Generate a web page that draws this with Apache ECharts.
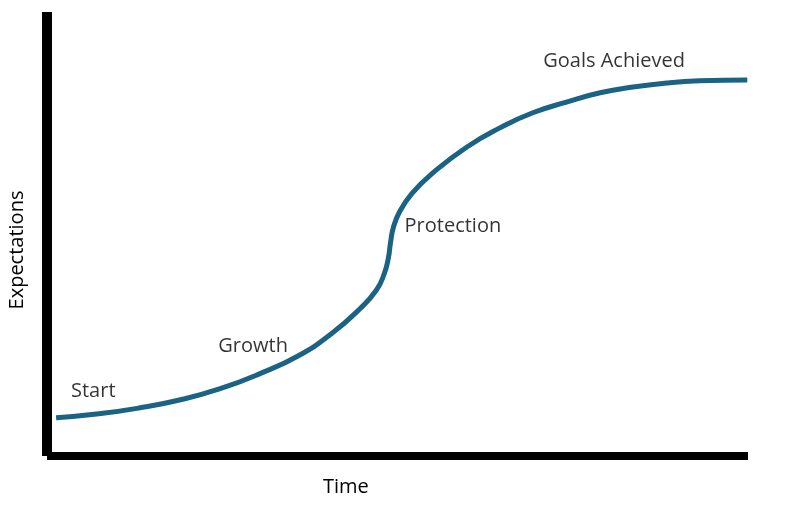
<!DOCTYPE html>
<html>
<head>
<meta charset="utf-8">
<script src="https://cdn.jsdelivr.net/npm/echarts@6/dist/echarts.min.js"></script>
<style>
  html, body { margin: 0; padding: 0; background: #fff; }
  #chart { width: 800px; height: 508px; }
</style>
</head>
<body>
<div id="chart"></div>
<script>
// curve, time (0-100) vs expectations (0-100)
const timeValues = [1.3, 7.4, 13.1, 18.9, 24.6, 30.3, 36.0, 40.7, 44.6, 47.0, 48.1, 48.7, 49.0, 49.4, 50.3, 52.1, 55.0, 59.9, 64.6, 69.3, 74.1, 78.9, 83.6, 88.4, 93.1, 99.9];
const expectValues = [8.6, 9.5, 10.8, 12.6, 15.1, 18.5, 22.7, 27.7, 33.1, 37.4, 41.0, 44.6, 48.0, 51.4, 55.0, 59.2, 63.7, 69.6, 73.9, 77.3, 79.7, 81.8, 83.1, 84.0, 84.5, 84.7];

// stage labels and where they sit in data space
const stageNames = ['Start', 'Growth', 'Protection', 'Goals Achieved'];
const stageX = [6.6, 29.4, 57.9, 80.9];
const stageY = [14.6, 24.8, 51.8, 89.0];

const FONT = '"Open Sans", "Noto Sans", sans-serif';

const chart = echarts.init(document.getElementById('chart'));

chart.setOption({
  animation: false,
  backgroundColor: '#fff',
  grid: { left: 47, right: 52, top: 12, bottom: 52 },
  xAxis: {
    type: 'value',
    min: 0,
    max: 100,
    axisLine: { show: true, lineStyle: { color: '#000', width: 8, cap: 'butt' } },
    axisTick: { show: false },
    axisLabel: { show: false },
    splitLine: { show: false },
  },
  yAxis: {
    type: 'value',
    min: 0,
    max: 100,
    axisLine: { show: true, lineStyle: { color: '#000', width: 10, cap: 'butt' } },
    axisTick: { show: false },
    axisLabel: { show: false },
    splitLine: { show: false },
  },
  graphic: [{
    type: 'text',
    left: 323,
    top: 477,
    style: { text: 'Time', font: '20px ' + FONT, fill: '#000' },
  }, {
    type: 'text',
    x: 7,
    y: 250,
    rotation: Math.PI / 2,
    style: {
      text: 'Expectations',
      font: '20px ' + FONT,
      fill: '#000',
      align: 'center',
      verticalAlign: 'top',
    },
  }],
  series: [{
    type: 'line',
    data: timeValues.map((t, i) => [t, expectValues[i]]),
    smooth: 0.5,
    symbol: 'none',
    lineStyle: { color: '#1a6384', width: 5, cap: 'butt' },
    z: 3,
  }, {
    type: 'scatter',
    symbolSize: 0,
    data: stageNames.map((n, i) => ({ name: n, value: [stageX[i], stageY[i]] })),
    label: {
      show: true,
      position: 'inside',
      formatter: '{b}',
      color: '#000',
      fontSize: 20,
      fontFamily: FONT,
    },
    z: 4,
  }],
});
</script>
</body>
</html>
